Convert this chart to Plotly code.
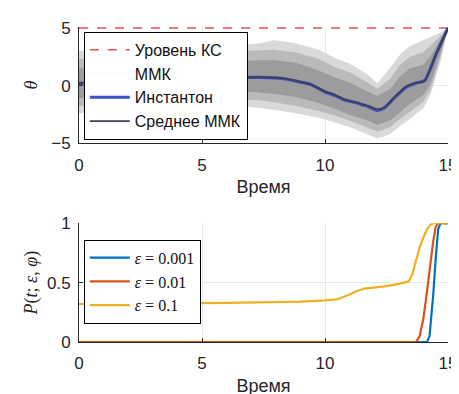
import plotly.graph_objects as go

# ---------------- data ----------------
t_band = [0, 1, 2, 3, 4, 5, 6, 7, 7.4, 7.9, 8.8, 9.75, 10.4, 11.07, 11.7, 12.13, 12.66, 13.05, 13.45, 14.0, 14.3, 14.7, 15]
outer_hi = [3.0, 3.1, 3.2, 3.3, 3.4, 3.5, 3.55, 3.6, 3.67, 3.95, 3.67, 3.1, 2.4, 1.84, 1.0, 0.2, 1.56, 2.7, 3.4, 3.95, 4.2, 4.6, 5.0]
mid_hi = [2.3, 2.4, 2.5, 2.6, 2.7, 2.8, 2.9, 2.95, 3.0, 3.1, 2.9, 2.3, 1.6, 1.1, 0.3, -0.3, 0.6, 1.8, 2.5, 2.9, 3.5, 4.3, 5.0]
core_hi = [1.5, 1.6, 1.7, 1.8, 1.9, 2.0, 2.1, 2.2, 2.2, 2.2, 2.0, 1.3, 0.7, 0.2, -0.5, -0.9, -0.3, 0.8, 1.5, 1.8, 2.6, 4.0, 5.0]
core_lo = [-1.1, -1.0, -0.9, -0.8, -0.7, -0.6, -0.55, -0.55, -0.6, -0.7, -1.0, -1.5, -2.0, -2.6, -3.0, -3.4, -3.0, -2.3, -1.6, -0.8, 0.2, 2.9, 4.95]
mid_lo = [-1.8, -1.7, -1.6, -1.5, -1.4, -1.3, -1.25, -1.25, -1.3, -1.45, -1.75, -2.2, -2.6, -3.1, -3.6, -4.0, -3.6, -2.9, -2.3, -1.4, -0.3, 2.5, 4.92]
outer_lo = [-2.4, -2.3, -2.2, -2.1, -2.0, -1.95, -1.85, -1.85, -1.95, -2.1, -2.4, -2.8, -3.2, -3.65, -4.2, -4.6, -4.2, -3.5, -2.9, -1.96, -0.7, 2.1, 4.9]

t_inst = [0, 1, 2, 3, 4, 5, 6, 7, 7.4, 8, 8.4, 9, 9.4, 10, 10.4, 10.8, 11.2, 11.5, 11.8, 12.1, 12.4, 12.8, 13.3, 13.7, 14.05, 14.5, 14.75, 15]
theta_inst = [0.2, 0.25, 0.3, 0.4, 0.5, 0.6, 0.68, 0.72, 0.72, 0.66, 0.57, 0.3, 0.12, -0.55, -0.85, -1.25, -1.45, -1.65, -1.85, -2.15, -1.96, -1.11, -0.13, 0.21, 0.44, 2.65, 3.85, 5.0]
theta_mean = [0.2, 0.25, 0.3, 0.4, 0.5, 0.6, 0.68, 0.72, 0.72, 0.68, 0.6, 0.32, 0.1, -0.5, -0.8, -1.2, -1.42, -1.6, -1.8, -2.05, -1.9, -1.05, -0.08, 0.25, 0.4, 2.6, 3.8, 5.0]

crit_t = [0, 15]
crit_level = [5, 5]

t_p01 = [0, 2, 4, 6, 8, 9, 10, 10.5, 11, 11.3, 11.6, 12, 12.5, 13, 13.4, 13.55, 13.7, 13.85, 14.0, 14.15, 14.3, 14.45, 15]
p_01 = [0.32, 0.32, 0.325, 0.33, 0.335, 0.34, 0.35, 0.36, 0.40, 0.43, 0.45, 0.46, 0.47, 0.49, 0.51, 0.57, 0.68, 0.8, 0.88, 0.95, 0.99, 1.0, 1.0]
t_p001 = [0, 13.7, 13.85, 14.0, 14.1, 14.2, 14.3, 14.4, 14.5, 14.6, 15]
p_001 = [0, 0, 0.05, 0.2, 0.35, 0.52, 0.7, 0.85, 0.97, 1.0, 1.0]
t_p0001 = [0, 14.15, 14.25, 14.32, 14.4, 14.5, 14.6, 14.7, 15]
p_0001 = [0, 0, 0.05, 0.2, 0.4, 0.7, 0.95, 1.0, 1.0]

x_ticks = [0, 5, 10, 15]
theta_ticks = [-5, 0, 5]
p_ticks = [0, 0.5, 1]

# ---------------- figure ----------------
SANS = "Liberation Sans, Arial, sans-serif"
SERIF = "Liberation Serif, Times New Roman, serif"
AX = "#262626"
NOLINE = dict(width=0, color="rgba(0,0,0,0)")

fig = go.Figure()

# Monte Carlo band (outer light -> core darker)
for lo, hi, col in [(outer_lo, outer_hi, "#d9d9d9"), (mid_lo, mid_hi, "#bababa"), (core_lo, core_hi, "#9c9c9c")]:
    fig.add_trace(go.Scatter(x=t_band, y=lo, mode="lines", line=NOLINE,
                             showlegend=False, hoverinfo="skip", xaxis="x", yaxis="y"))
    fig.add_trace(go.Scatter(x=t_band, y=hi, mode="lines", line=NOLINE,
                             fill="tonexty", fillcolor=col,
                             showlegend=False, hoverinfo="skip", xaxis="x", yaxis="y"))

fig.add_trace(go.Scatter(x=crit_t, y=crit_level, mode="lines", name="Уровень КС",
                         line=dict(color="#e4505c", width=1.5, dash="dash"),
                         legend="legend", xaxis="x", yaxis="y"))
fig.add_trace(go.Scatter(x=[None], y=[None], mode="lines", name="ММК",
                         line=dict(color="rgba(200,200,200,0.15)", width=1),
                         legend="legend", xaxis="x", yaxis="y"))
fig.add_trace(go.Scatter(x=t_inst, y=theta_inst, mode="lines", name="Инстантон",
                         line=dict(color="#3a4fc8", width=3.2, shape="spline", smoothing=0.6),
                         legend="legend", xaxis="x", yaxis="y"))
fig.add_trace(go.Scatter(x=t_inst, y=theta_mean, mode="lines", name="Среднее ММК",
                         line=dict(color="#40404e", width=1.8, shape="spline", smoothing=0.6),
                         legend="legend", xaxis="x", yaxis="y"))

# bottom panel
fig.add_trace(go.Scatter(x=t_p0001, y=p_0001, mode="lines", name="<i>ε</i> = 0.001",
                         line=dict(color="#0072BD", width=2.2),
                         legend="legend2", xaxis="x2", yaxis="y2"))
fig.add_trace(go.Scatter(x=t_p001, y=p_001, mode="lines", name="<i>ε</i> = 0.01",
                         line=dict(color="#D95319", width=2.2),
                         legend="legend2", xaxis="x2", yaxis="y2"))
fig.add_trace(go.Scatter(x=t_p01, y=p_01, mode="lines", name="<i>ε</i> = 0.1",
                         line=dict(color="#EDB120", width=2.2),
                         legend="legend2", xaxis="x2", yaxis="y2"))

axis_common = dict(showline=True, linecolor=AX, linewidth=1, ticks="inside", ticklen=4,
                   tickcolor=AX, showgrid=True, gridcolor="#e8e8e8", gridwidth=1,
                   zeroline=False, tickfont=dict(family=SANS, size=17, color=AX),
                   mirror=False)

fig.update_layout(
    width=459, height=394,
    margin=dict(l=71, r=10, t=18, b=54),
    paper_bgcolor="white", plot_bgcolor="white",
    xaxis=dict(domain=[0, 1], range=[0, 15], tickvals=x_ticks, anchor="y",
               title=dict(text="Время", font=dict(family=SANS, size=18, color=AX), standoff=6),
               ticklabelstandoff=6, **axis_common),
    yaxis=dict(domain=[0.631, 1], range=[-5, 5.08], tickvals=theta_ticks, anchor="x",
               title=dict(text="<i>θ</i>", font=dict(family=SERIF, size=18, color=AX), standoff=8),
               ticklabelstandoff=4, **axis_common),
    xaxis2=dict(domain=[0, 1], range=[0, 15], tickvals=x_ticks, anchor="y2",
                title=dict(text="Время", font=dict(family=SANS, size=18, color=AX), standoff=6),
                ticklabelstandoff=6, **axis_common),
    yaxis2=dict(domain=[0, 0.377], range=[0, 1], tickvals=p_ticks, ticktext=["0", "0.5", "1"], anchor="x2",
                title=dict(text="<i>P</i>(<i>t</i>; <i>ε</i>, <i>φ</i>)", font=dict(family=SERIF, size=18, color=AX), standoff=4),
                ticklabelstandoff=4, **axis_common),
    legend=dict(x=0.013, y=0.985, xanchor="left", yanchor="top", bgcolor="white",
                bordercolor="black", borderwidth=1, font=dict(family=SANS, size=16, color="#111"),
                itemwidth=40, tracegroupgap=0, traceorder="normal"),
    legend2=dict(x=0.013, y=0.325, xanchor="left", yanchor="top", bgcolor="white",
                 bordercolor="black", borderwidth=1, font=dict(family=SERIF, size=16, color="#111"),
                 itemwidth=40, tracegroupgap=0, traceorder="normal"),
)

fig.write_html("out.html")
